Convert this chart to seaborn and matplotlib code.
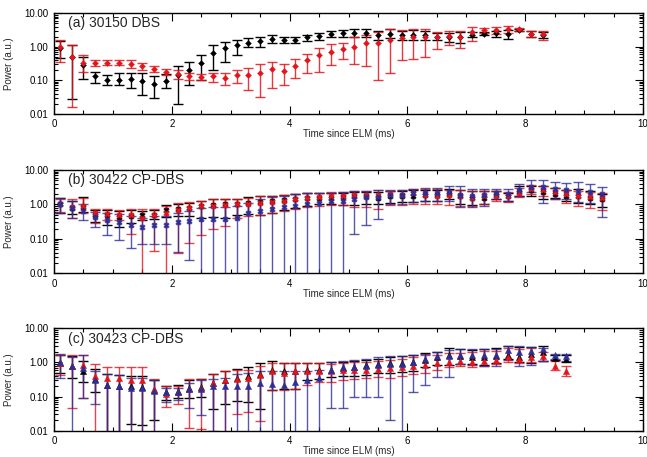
import matplotlib
matplotlib.use("Agg")
import numpy as np
import pandas as pd
import matplotlib.pyplot as plt
import seaborn as sns
from matplotlib.ticker import FixedLocator, MultipleLocator, LogLocator, NullFormatter, FuncFormatter

# ---------------- data ----------------
t_a = [0.1, 0.3, 0.5, 0.7, 0.9, 1.1, 1.3, 1.5, 1.7, 1.9, 2.1, 2.3, 2.5, 2.7, 2.9, 3.1, 3.3, 3.5, 3.7, 3.9, 4.1,
       4.3, 4.5, 4.7, 4.9, 5.1, 5.3, 5.5, 5.7, 5.9, 6.1, 6.3, 6.5, 6.7, 6.9, 7.1, 7.3, 7.5, 7.7, 7.9, 8.1, 8.3]
t_b = t_a + [8.5, 8.7, 8.9, 9.1, 9.3]
t_c = t_a + [8.5, 8.7]

# panel (a) 30150 DBS
a_black_val = [0.9, 0.5, 0.28, 0.13, 0.10, 0.105, 0.11, 0.095, 0.078, 0.095, 0.14, 0.2, 0.33, 0.65, 0.9, 1.1, 1.3,
               1.5, 1.7, 1.6, 1.6, 1.9, 2.1, 2.4, 2.5, 2.5, 2.5, 2.3, 2.4, 2.3, 2.3, 2.2, 2.0, 2.0, 1.9, 2.3, 2.4,
               2.5, 2.4, 3.2, 2.4, 2.3]
a_black_lo = [0.45, 0.027, 0.11, 0.08, 0.07, 0.07, 0.06, 0.037, 0.03, 0.06, 0.02, 0.07, 0.1, 0.2, 0.35, 0.55, 1.0,
              1.0, 1.3, 1.3, 1.3, 1.5, 1.6, 1.9, 2.0, 2.0, 1.9, 1.6, 1.8, 1.6, 1.6, 1.6, 1.6, 1.4, 1.3, 2.0, 2.2,
              2.0, 1.7, 2.9, 2.0, 1.8]
a_black_hi = [1.5, 1.15, 0.5, 0.18, 0.14, 0.16, 0.17, 0.16, 0.13, 0.15, 0.27, 0.35, 0.55, 1.1, 1.4, 1.6, 1.8,
              2.0, 2.2, 2.0, 2.0, 2.3, 2.6, 2.9, 3.2, 3.3, 3.3, 3.0, 3.3, 3.0, 3.1, 2.9, 2.5, 2.6, 2.7, 2.7, 2.7,
              3.0, 3.2, 3.5, 2.9, 2.8]
a_red_val = [1.0, 0.5, 0.33, 0.32, 0.33, 0.33, 0.31, 0.26, 0.22, 0.18, 0.15, 0.13, 0.125, 0.13, 0.12, 0.14, 0.14,
             0.17, 0.21, 0.19, 0.26, 0.4, 0.55, 0.71, 0.84, 0.96, 1.27, 1.33, 1.6, 1.8, 2.0, 1.9, 2.0, 2.15, 2.0,
             2.7, 3.2, 3.2, 3.3, 3.3, 2.35, 2.35]
a_red_lo = [0.35, 0.016, 0.18, 0.27, 0.28, 0.28, 0.24, 0.2, 0.18, 0.14, 0.11, 0.1, 0.1, 0.09, 0.07, 0.08, 0.05,
            0.032, 0.06, 0.07, 0.12, 0.16, 0.18, 0.28, 0.42, 0.3, 0.26, 0.105, 0.16, 0.4, 0.42, 0.5, 0.86, 1.1,
            0.9, 1.5, 2.5, 2.4, 2.6, 2.9, 1.9, 1.6]
a_red_hi = [1.6, 1.15, 0.55, 0.4, 0.4, 0.4, 0.4, 0.33, 0.26, 0.21, 0.2, 0.16, 0.15, 0.16, 0.17, 0.2, 0.23,
            0.3, 0.35, 0.3, 0.42, 0.6, 0.9, 1.18, 1.33, 2.0, 2.2, 2.8, 3.5, 3.2, 3.5, 3.3, 2.8, 2.9, 3.0, 4.0,
            3.6, 3.9, 4.1, 3.7, 2.9, 3.0]

# panel (b) 30422 CP-DBS
b_black_val = [1.0, 0.8, 0.85, 0.5, 0.48, 0.42, 0.45, 0.48, 0.5, 0.7, 0.72, 0.8, 0.9, 0.95, 1.0, 1.0, 1.1, 1.2,
               1.3, 1.35, 1.4, 1.5, 1.5, 1.5, 1.6, 1.7, 1.7, 1.5, 1.7, 1.8, 1.8, 1.9, 1.9, 2.0, 1.7, 1.5, 1.5,
               1.9, 1.7, 2.3, 2.6, 2.3, 2.0, 1.8, 1.8, 1.5, 1.4]
b_black_lo = [0.55, 0.52, 0.6, 0.3, 0.25, 0.22, 0.28, 0.35, 0.38, 0.42, 0.45, 0.45, 0.4, 0.42, 0.4, 0.5, 0.52,
              0.5, 0.55, 0.7, 0.8, 0.9, 1.0, 1.0, 0.95, 0.95, 1.05, 1.0, 1.1, 1.2, 1.2, 1.3, 1.3, 1.4, 1.0, 0.95,
              1.0, 1.4, 1.3, 1.7, 1.8, 1.4, 1.5, 1.3, 1.1, 1.0, 0.85]
b_black_hi = [1.5, 1.3, 1.6, 0.7, 0.7, 0.65, 0.68, 0.65, 0.7, 0.95, 1.0, 1.1, 1.3, 1.4, 1.4, 1.4, 1.6, 1.7, 1.8,
              1.9, 2.0, 2.1, 2.1, 2.1, 2.1, 2.3, 2.3, 2.3, 2.4, 2.5, 2.6, 2.6, 2.6, 2.8, 2.6, 2.4, 2.4, 2.5, 2.2,
              3.4, 3.5, 3.4, 3.1, 2.6, 2.9, 2.4, 2.0]
b_red_val = [1.0, 0.85, 0.92, 0.55, 0.52, 0.48, 0.5, 0.4, 0.5, 0.55, 0.7, 0.8, 0.9, 0.9, 0.95, 1.0, 1.0, 1.1,
             1.15, 1.3, 1.4, 1.5, 1.6, 1.7, 1.8, 1.9, 1.9, 1.9, 2.0, 1.9, 2.1, 1.9, 1.8, 1.9, 1.7, 1.5, 1.7, 1.8,
             1.7, 2.2, 2.9, 2.6, 2.3, 2.0, 1.8, 1.6, 1.5]
b_red_lo = [0.6, 0.4, 0.55, 0.28, 0.35, 0.35, 0.14, 0.001, 0.043, 0.001, 0.04, 0.075, 0.13, 0.19, 0.23, 0.4,
            0.45, 0.5, 0.55, 0.65, 0.75, 0.85, 0.9, 0.95, 0.95, 0.85, 0.85, 0.75, 0.95, 0.95, 1.05, 1.0, 1.0,
            0.95, 0.9, 0.9, 1.0, 1.3, 1.2, 1.6, 2.0, 1.8, 1.4, 1.1, 0.9, 0.8, 0.7]
b_red_hi = [1.4, 1.4, 1.5, 0.75, 0.72, 0.7, 0.72, 0.72, 0.75, 0.9, 1.1, 1.2, 1.3, 1.4, 1.4, 1.4, 1.5, 1.7, 1.8,
            1.9, 2.0, 2.2, 2.2, 2.3, 2.3, 2.4, 2.4, 2.6, 2.5, 2.6, 2.8, 2.8, 2.8, 2.7, 2.6, 2.4, 2.5, 2.5, 2.3,
            3.0, 3.6, 3.4, 3.0, 2.7, 2.5, 2.3, 2.2]
b_blue_val = [1.0, 0.78, 0.65, 0.42, 0.36, 0.3, 0.25, 0.22, 0.25, 0.25, 0.3, 0.33, 0.38, 0.38, 0.38, 0.4, 0.55,
              0.65, 0.72, 0.82, 0.9, 1.05, 1.1, 1.3, 1.3, 1.45, 1.6, 1.6, 1.9, 1.9, 2.1, 2.2, 2.1, 2.3, 1.9, 1.7,
              1.9, 2.1, 2.0, 2.6, 3.3, 3.2, 2.9, 2.7, 2.5, 2.3, 2.0]
b_blue_lo = [0.55, 0.4, 0.36, 0.22, 0.13, 0.09, 0.055, 0.07, 0.072, 0.07, 0.042, 0.024, 0.001, 0.001, 0.001,
             0.001, 0.001, 0.001, 0.001, 0.001, 0.001, 0.001, 0.001, 0.001, 0.001, 0.14, 0.26, 0.38, 1.0, 1.0,
             1.2, 1.3, 1.3, 1.3, 0.85, 0.85, 0.9, 1.4, 1.3, 1.7, 2.3, 1.1, 1.4, 1.4, 1.2, 1.1, 0.44]
b_blue_hi = [1.55, 1.3, 1.0, 0.62, 0.56, 0.52, 0.46, 0.4, 0.45, 0.45, 0.55, 0.65, 0.8, 0.85, 0.85, 0.9, 1.1, 1.4,
             1.6, 1.8, 2.0, 2.1, 2.1, 2.2, 2.3, 2.4, 2.5, 2.6, 2.6, 2.7, 2.9, 3.0, 3.0, 3.4, 3.4, 2.8, 2.9, 2.8,
             2.8, 3.8, 5.0, 5.0, 4.4, 4.3, 4.6, 4.0, 3.3]

# panel (c) 30423 CP-DBS
c_black_val = [0.95, 0.8, 0.55, 0.33, 0.22, 0.2, 0.2, 0.19, 0.16, 0.14, 0.15, 0.18, 0.19, 0.25, 0.3, 0.35, 0.4,
               0.47, 0.6, 0.55, 0.55, 0.6, 0.6, 0.62, 0.7, 0.75, 0.85, 0.9, 0.95, 0.95, 1.05, 1.15, 1.4, 1.6, 1.5,
               1.45, 1.4, 1.5, 1.6, 1.45, 1.8, 2.0, 1.35, 1.3]
c_black_lo = [0.5, 0.34, 0.26, 0.14, 0.001, 0.001, 0.016, 0.015, 0.02, 0.08, 0.09, 0.09, 0.1, 0.042, 0.06, 0.075,
              0.07, 0.043, 0.16, 0.17, 0.17, 0.3, 0.33, 0.37, 0.4, 0.4, 0.42, 0.5, 0.5, 0.52, 0.55, 0.75, 0.85,
              0.85, 0.9, 0.9, 0.85, 0.95, 1.3, 1.05, 0.95, 1.1, 1.2, 1.05]
c_black_hi = [1.7, 1.5, 1.1, 0.64, 0.45, 0.42, 0.4, 0.4, 0.3, 0.2, 0.22, 0.3, 0.33, 0.45, 0.58, 0.65, 0.72, 0.95,
              1.1, 0.95, 0.95, 0.95, 0.95, 1.0, 1.05, 1.1, 1.2, 1.3, 1.4, 1.5, 1.6, 1.9, 2.0, 2.6, 2.5, 2.3, 2.4,
              2.6, 3.0, 2.9, 2.9, 3.0, 1.6, 1.7]
c_red_val = [0.95, 0.8, 0.85, 0.4, 0.35, 0.35, 0.3, 0.3, 0.17, 0.12, 0.14, 0.17, 0.18, 0.25, 0.3, 0.33, 0.35, 0.42,
             0.55, 0.5, 0.55, 0.55, 0.55, 0.55, 0.6, 0.6, 0.62, 0.65, 0.7, 0.75, 0.8, 0.85, 0.95, 1.05, 1.1, 1.05,
             1.1, 1.2, 1.4, 1.3, 1.45, 1.5, 0.8, 0.55]
c_red_lo = [0.42, 0.045, 0.09, 0.001, 0.001, 0.001, 0.001, 0.001, 0.001, 0.05, 0.06, 0.012, 0.011, 0.001, 0.001,
            0.03, 0.035, 0.019, 0.16, 0.16, 0.17, 0.22, 0.27, 0.27, 0.3, 0.33, 0.35, 0.37, 0.35, 0.4, 0.45, 0.48,
            0.6, 0.75, 0.8, 0.75, 0.8, 0.9, 1.0, 0.95, 1.0, 1.1, 0.6, 0.4]
c_red_hi = [1.6, 1.6, 1.7, 0.9, 0.75, 0.75, 0.72, 0.72, 0.33, 0.2, 0.2, 0.32, 0.33, 0.45, 0.55, 0.6, 0.62, 0.8,
            0.95, 0.95, 0.95, 0.95, 0.95, 0.9, 0.95, 1.0, 1.05, 1.1, 1.2, 1.3, 1.45, 1.6, 1.7, 1.9, 1.9, 2.0, 2.1,
            2.2, 2.6, 2.5, 2.7, 2.0, 1.1, 0.8]
c_blue_val = [1.0, 0.8, 0.7, 0.3, 0.22, 0.2, 0.18, 0.18, 0.15, 0.14, 0.14, 0.17, 0.17, 0.2, 0.2, 0.2, 0.2, 0.25,
              0.24, 0.22, 0.27, 0.3, 0.35, 0.62, 0.72, 0.75, 0.8, 0.85, 0.9, 0.9, 1.0, 1.3, 1.5, 1.55, 1.6, 1.6,
              1.7, 1.7, 2.3, 2.0, 2.2, 2.5, 1.6, 1.5]
c_blue_lo = [0.35, 0.001, 0.09, 0.06, 0.001, 0.001, 0.001, 0.001, 0.001, 0.07, 0.08, 0.045, 0.028, 0.01, 0.001,
             0.001, 0.001, 0.001, 0.001, 0.001, 0.001, 0.001, 0.001, 0.045, 0.045, 0.1, 0.1, 0.1, 0.02, 0.001,
             0.14, 0.22, 0.37, 0.37, 0.9, 0.85, 0.8, 0.8, 1.2, 0.8, 0.85, 1.1, 1.3, 1.1]
c_blue_hi = [1.8, 1.4, 1.6, 0.55, 0.45, 0.42, 0.35, 0.35, 0.3, 0.18, 0.18, 0.25, 0.3, 0.32, 0.35, 0.45, 0.5,
             0.55, 0.55, 0.55, 0.55, 0.55, 0.6, 1.0, 1.1, 1.2, 1.3, 1.4, 1.5, 1.5, 1.6, 1.8, 2.0, 2.3, 2.4, 2.4,
             2.4, 2.5, 3.0, 3.0, 2.9, 2.7, 1.8, 1.8]

titles = ["(a) 30150 DBS", "(b) 30422 CP-DBS", "(c) 30423 CP-DBS"]
y_ticks = [0.01, 0.1, 1.0, 10.0]
x_ticks = [0, 2, 4, 6, 8, 10]

BLACK = "#000000"
RED = "#e4141b"
BLUE = "#2e2e96"

# ---------------- style ----------------
sns.set_style("ticks")
plt.rcParams["font.family"] = ["Liberation Sans", "DejaVu Sans"]

fig = plt.figure(figsize=(6.47, 4.57), dpi=100)
W, H = 647.0, 457.0
left_px, right_px = 54.0, 643.0
panel_px = [(13.3, 113.7), (170.0, 273.3), (328.3, 430.7)]

panels = [
    (t_a, "D", 9, [(a_black_val, a_black_lo, a_black_hi, BLACK, 1.0),
                   (a_red_val, a_red_lo, a_red_hi, RED, 0.85)]),
    (t_b, "X", 16, [(b_black_val, b_black_lo, b_black_hi, BLACK, 1.0),
                    (b_red_val, b_red_lo, b_red_hi, RED, 0.8),
                    (b_blue_val, b_blue_lo, b_blue_hi, BLUE, 0.8)]),
    (t_c, "^", 20, [(c_black_val, c_black_lo, c_black_hi, BLACK, 1.0),
                    (c_red_val, c_red_lo, c_red_hi, RED, 0.8),
                    (c_blue_val, c_blue_lo, c_blue_hi, BLUE, 0.8)]),
]

for i, ((top, bot), (tt, mk, ms, series)) in enumerate(zip(panel_px, panels)):
    h_px = bot - top
    ax = fig.add_axes([left_px / W, 1 - bot / H, (right_px - left_px) / W, h_px / H])
    for val, lo, hi, col, al in series:
        v = np.array(val)
        yerr = [v - np.array(lo), np.array(hi) - v]
        ax.errorbar(tt, v, yerr=yerr, fmt="none", ecolor=col, elinewidth=1.0,
                    capsize=3.3, capthick=1.0, alpha=al, zorder=2)
        df = pd.DataFrame({"t": tt, "p": v})
        sns.scatterplot(data=df, x="t", y="p", marker=mk, s=ms, color=col,
                        edgecolor=col, linewidth=0.3, ax=ax, zorder=3, legend=False)
    ax.set_yscale("log")
    ax.set_ylim(0.01, 10)
    ax.set_xlim(0, 10)
    ax.yaxis.set_major_locator(FixedLocator(y_ticks))
    ax.yaxis.set_major_formatter(FuncFormatter(lambda v, p: f"{v:.2f}"))
    ax.yaxis.set_minor_locator(LogLocator(base=10, subs=np.arange(2, 10), numticks=20))
    ax.yaxis.set_minor_formatter(NullFormatter())
    ax.xaxis.set_major_locator(FixedLocator(x_ticks))
    ax.xaxis.set_minor_locator(MultipleLocator(0.5))
    ax.tick_params(which="both", direction="in", top=True, right=True, labelsize=7, color="black",
                   labelcolor="black", width=0.8)
    ax.tick_params(which="major", length=6, pad=4)
    ax.tick_params(which="minor", length=3)
    for sp in ax.spines.values():
        sp.set_linewidth(1.0)
        sp.set_color("black")
    ax.set_xlabel("Time since ELM (ms)", fontsize=7, va="center")
    ax.set_ylabel("Power (a.u.)", fontsize=7)
    ax.xaxis.set_label_coords(0.5, -20.5 / h_px)
    ax.yaxis.set_label_coords(-0.068, 0.5)
    ax.text(0.024, 0.9, titles[i], transform=ax.transAxes, fontsize=10, va="center", ha="left")

fig.savefig("out.png", dpi=100)
